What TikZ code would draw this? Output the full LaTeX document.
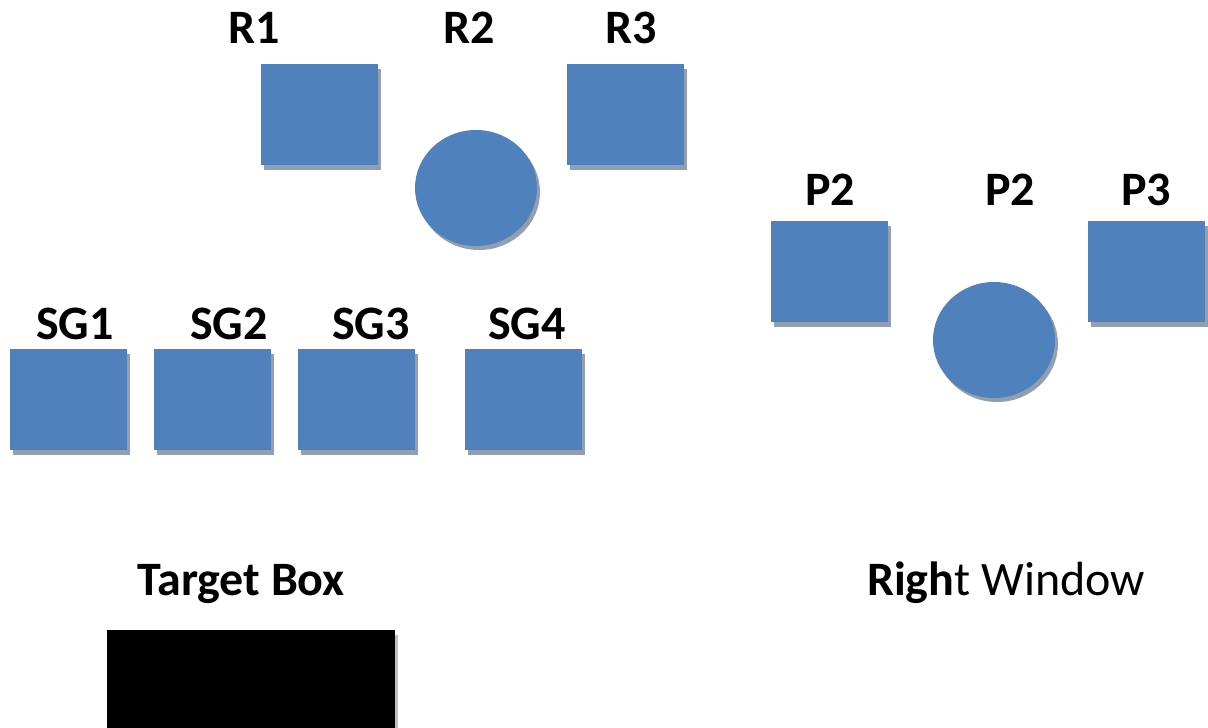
\documentclass[tikz,border=0pt]{standalone}
\usepackage{fontspec}
\setmainfont{Carlito}
\usetikzlibrary{shapes.geometric,shadows}

\definecolor{boxblue}{HTML}{4F81BD}
\definecolor{shadowgray}{HTML}{929FB0}
\definecolor{lightgray}{HTML}{C0C0C0}

\tikzset{
  BlueBox/.style  = {rectangle, fill=boxblue, minimum width=117pt, minimum height=101pt,
                     inner sep=0pt,
                     drop shadow={shadow xshift=3pt, shadow yshift=-5pt, fill=shadowgray, opacity=1}},
  BlueDisc/.style = {ellipse, fill=boxblue, minimum width=122pt, minimum height=116pt,
                     inner sep=0pt,
                     drop shadow={shadow xshift=3pt, shadow yshift=-4pt, fill=shadowgray, opacity=1}},
  LabelText/.style = {anchor=base, inner sep=0pt, font=\fontsize{48}{58}\selectfont}
}

\begin{document}
\begin{tikzpicture}[x=1pt,y=-1pt]

\useasboundingbox (0,0) rectangle (1208,728);

% top group
\node[LabelText] (r1label) at (254,43) {\textbf{R1}};
\node[LabelText] (r2label) at (469,43) {\textbf{R2}};
\node[LabelText] (r3label) at (631,43) {\textbf{R3}};

\node[BlueBox]  (r1) at (319.5,114.5) {};
\node[BlueDisc] (r2) at (476,188) {};
\node[BlueBox]  (r3) at (625.5,114.5) {};

% right group
\node[LabelText] (p1label) at (830,205) {\textbf{P2}};
\node[LabelText] (p2label) at (1010,205) {\textbf{P2}};
\node[LabelText] (p3label) at (1146,205) {\textbf{P3}};

\node[BlueBox]  (p1) at (829.5,271) {};
\node[BlueDisc] (p2) at (994,340) {};
\node[BlueBox]  (p3) at (1146,271) {};

% row of SG boxes
\node[LabelText] (sg1label) at (75,339)  {\textbf{SG1}};
\node[LabelText] (sg2label) at (229,339) {\textbf{SG2}};
\node[LabelText] (sg3label) at (371,339) {\textbf{SG3}};
\node[LabelText] (sg4label) at (527,339) {\textbf{SG4}};

\node[BlueBox] (sg1) at (68,399)    {};
\node[BlueBox] (sg2) at (212,399)   {};
\node[BlueBox] (sg3) at (356.5,399) {};
\node[BlueBox] (sg4) at (523.5,399) {};

% bottom
\node[LabelText] (targetlabel) at (241,595)  {\textbf{Target Box}};
\node[LabelText] (windowlabel) at (1006,595) {\textbf{Righ}t Window};

\node[rectangle, fill=black, minimum width=288pt, minimum height=110pt, inner sep=0pt,
      drop shadow={shadow xshift=3pt, shadow yshift=-5pt, fill=lightgray, opacity=1}]
      (target) at (251,685) {};

\end{tikzpicture}
\end{document}
